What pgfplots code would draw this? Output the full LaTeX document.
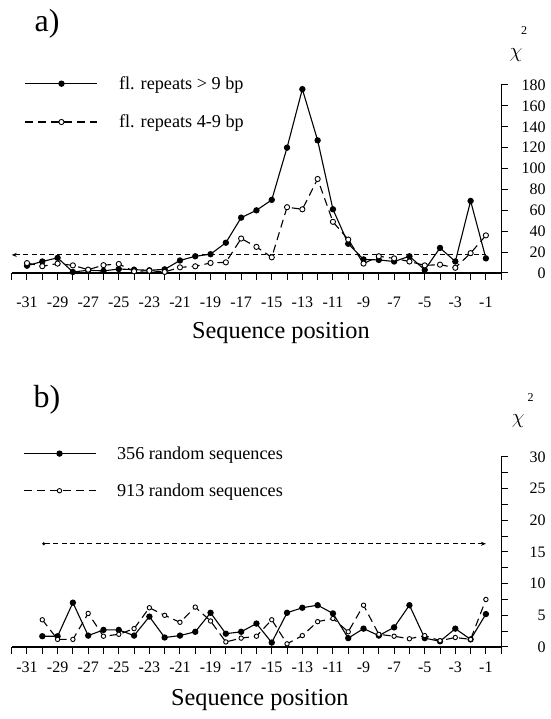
\documentclass[border=0pt]{standalone}
\usepackage{fontspec}
\setmainfont{Liberation Serif}
\usepackage{pgfplots}
\pgfplotsset{compat=1.18}
\usetikzlibrary{arrows.meta}

\pgfplotsset{
  seqax/.style={
    scale only axis, width=489.5pt,
    xmin=-32, xmax=0, ymin=0,
    axis x line=bottom, axis y line=right,
    axis line style={-, line width=1.1pt},
    tick align=outside,
    major tick length=7pt, minor tick length=7pt,
    every tick/.style={line width=1pt, black},
    xtick={-31,-29,...,-1},
    minor xtick={-32,...,0},
    xticklabels={-31,-29,-27,-25,-23,-21,-19,-17,-15,-13,-11,-9,-7,-5,-3,-1},
    ticklabel style={font=\fontsize{16}{18}\selectfont},
    yticklabel style={xshift=10pt, text width=24pt, align=right},
    /pgf/number format/assume math mode=true,
    xlabel={Sequence position},
    xlabel style={font=\fontsize{24.3}{26}\selectfont, anchor=center},
    clip=false,
    legend cell align=left,
    legend style={draw=none, fill=none, inner sep=0pt, outer sep=0pt,
      nodes={inner sep=0pt}, column sep=21pt,
      font=\fontsize{18.2}{20}\selectfont},
    legend image code/.code={\draw[mark repeat=2,mark phase=2,##1]
      plot coordinates {(0pt,0pt)(36pt,0pt)(72pt,0pt)};},
  },
  fullser/.style={black, line width=1.1pt, mark=*, mark size=2.6pt, mark options={solid}},
  openser/.style={black, line width=1.1pt, dash pattern=on 8pt off 5pt,
    mark=*, mark size=2.6pt, mark options={solid, fill=white, draw=black, line width=0.9pt}},
}

\begin{document}
\begin{tikzpicture}

% panel a
\begin{axis}[seqax, at={(11.7pt,446pt)}, anchor=south west,
  height=188pt, ymax=180, ytick={0,20,...,180},
  xticklabel style={yshift=-13pt},
  xlabel style={at={(axis description cs:0.55,-0.319)}},
  legend style={at={(axis description cs:0.027,1.045)}, anchor=north west, row sep=24pt}]
\addplot[fullser] coordinates {
  (-31,7) (-30,11) (-29,14.5) (-28,1) (-27,2.6) (-26,2) (-25,3.8) (-24,3.2)
  (-23,2.6) (-22,3.5) (-21,12) (-20,16) (-19,18) (-18,29) (-17,53) (-16,60)
  (-15,70) (-14,120) (-13,176) (-12,127) (-11,61) (-10,28) (-9,13) (-8,12.5)
  (-7,11) (-6,16) (-5,3) (-4,24) (-3,11) (-2,69) (-1,14)};
\addplot[openser] coordinates {
  (-31,9.5) (-30,6.5) (-29,9) (-28,7.3) (-27,3.2) (-26,7.5) (-25,8.6) (-24,1.6)
  (-23,2.2) (-22,1) (-21,5.4) (-20,6.4) (-19,9.6) (-18,10.2) (-17,33) (-16,25)
  (-15,15) (-14,63) (-13,61) (-12,90) (-11,49) (-10,32) (-9,9) (-8,16)
  (-7,14) (-6,11) (-5,7.3) (-4,8) (-3,5) (-2,19) (-1,36)};
\addplot[forget plot, black, line width=0.9pt, dash pattern=on 5pt off 3.5pt,
  {Stealth[length=5pt,width=4pt]}-] coordinates {(-32,17.3) (-1,17.3)};
\legend{fl. repeats > 9 bp, fl. repeats 4-9 bp}
\node[font=\fontsize{22}{24}\selectfont] at (rel axis cs:1.03,1.16) {$\chi$};
\node[font=\fontsize{12}{14}\selectfont] at (rel axis cs:1.047,1.29) {2};
\end{axis}

% panel b
\begin{axis}[seqax, at={(11.7pt,72pt)}, anchor=south west,
  height=190pt, ymax=30, ytick={0,5,...,30}, minor ytick={2.5,7.5,...,27.5},
  xticklabel style={yshift=-4pt},
  xlabel style={at={(axis description cs:0.507,-0.279)}},
  legend style={at={(axis description cs:0.023,1.055)}, anchor=north west, row sep=23pt}]
\addplot[fullser] coordinates {
  (-30,1.7) (-29,1.7) (-28,7.0) (-27,1.8) (-26,2.7) (-25,2.7) (-24,1.8) (-23,4.8)
  (-22,1.5) (-21,1.8) (-20,2.4) (-19,5.4) (-18,2.1) (-17,2.4) (-16,3.7) (-15,0.7)
  (-14,5.4) (-13,6.2) (-12,6.6) (-11,5.3) (-10,1.4) (-9,2.9) (-8,1.8) (-7,3.1)
  (-6,6.6) (-5,1.4) (-4,0.9) (-3,2.9) (-2,1.2) (-1,5.2)};
\addplot[openser, mark size=2.2pt] coordinates {
  (-30,4.3) (-29,1.2) (-28,1.2) (-27,5.3) (-26,1.7) (-25,2.0) (-24,2.9) (-23,6.2)
  (-22,5.0) (-21,3.9) (-20,6.3) (-19,4.1) (-18,0.8) (-17,1.4) (-16,1.7) (-15,4.3)
  (-14,0.5) (-13,1.8) (-12,4.0) (-11,4.5) (-10,2.4) (-9,6.6) (-8,2.0) (-7,1.7)
  (-6,1.3) (-5,1.8) (-4,1.0) (-3,1.5) (-2,1.2) (-1,7.5)};
\addplot[forget plot, black, line width=0.9pt, dash pattern=on 5pt off 3.5pt,
  {Circle[length=3pt]}-{Stealth[length=5pt,width=4pt]}] coordinates {(-30,16.3) (-1,16.3)};
\legend{356 random sequences, 913 random sequences}
\node[font=\fontsize{22}{24}\selectfont] at (rel axis cs:1.035,1.19) {$\chi$};
\node[font=\fontsize{12}{14}\selectfont] at (rel axis cs:1.06,1.315) {2};
\end{axis}

\node[font=\fontsize{32}{36}\selectfont] at (47pt,695pt) {a)};
\node[font=\fontsize{32}{36}\selectfont] at (47pt,319pt) {b)};
\pgfresetboundingbox
\useasboundingbox (0pt,0pt) rectangle (550pt,719pt);
\end{tikzpicture}
\end{document}
